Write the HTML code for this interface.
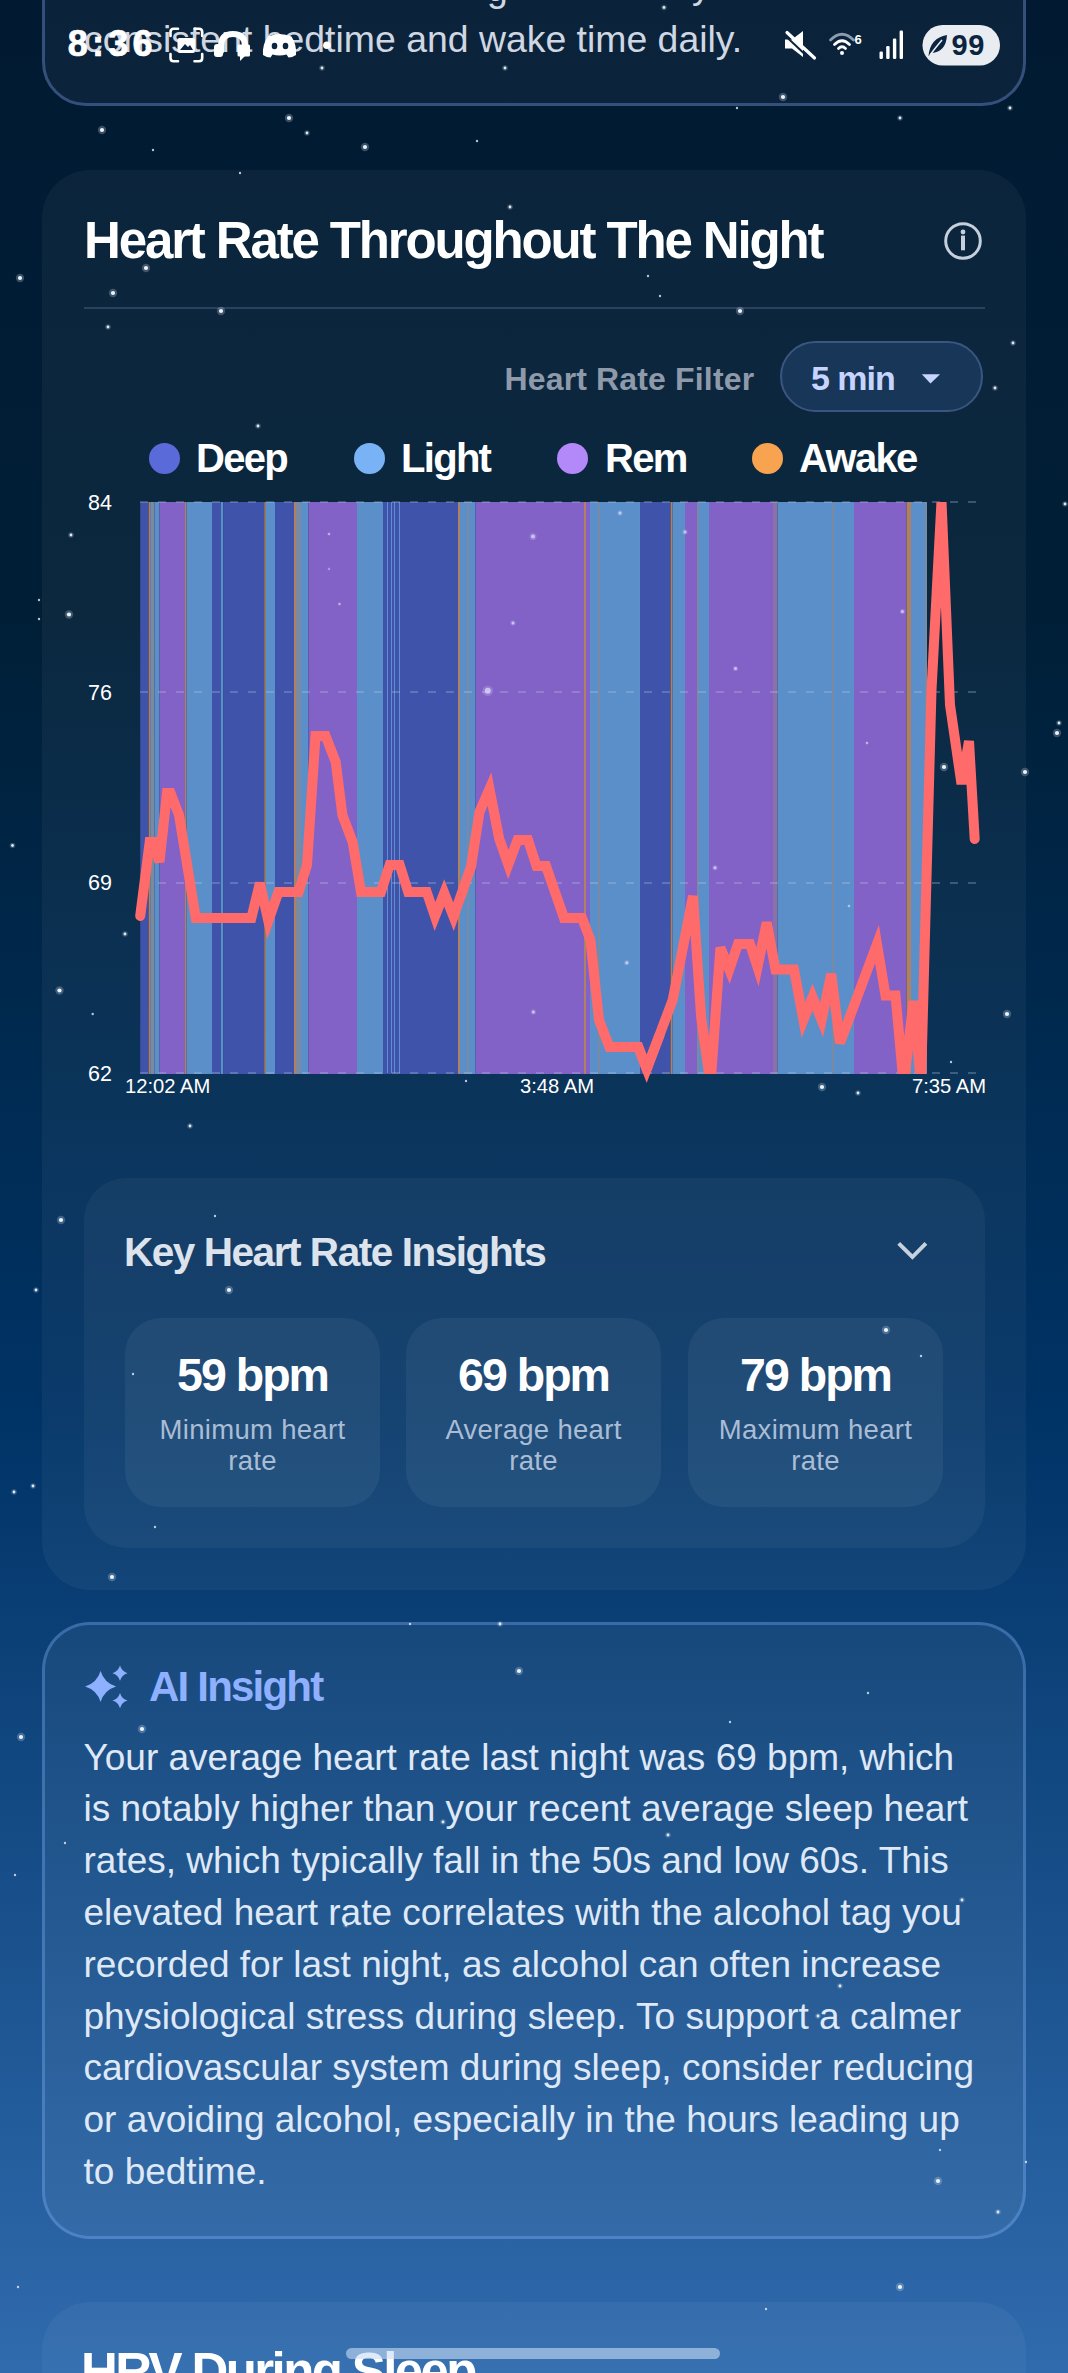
<!DOCTYPE html>
<html><head><meta charset="utf-8">
<style>
html,body{margin:0;padding:0;}
body{width:1068px;height:2373px;overflow:hidden;position:relative;
 font-family:"Liberation Sans",sans-serif;
 background:linear-gradient(180deg,#011a32 0px,#001f37 620px,#003366 1415px,#306bae 2373px);}
.a{position:absolute;}
.t{position:absolute;white-space:nowrap;line-height:1;}
.card{position:absolute;background:rgba(255,255,255,0.045);}
.pl{left:83.5px;font-size:37px;color:#dfe8f6;}
</style></head><body>
<!-- previous card -->
<div class="card" style="left:42px;top:-120px;width:978px;height:220px;border:3px solid #34507a;border-radius:44px;"></div>
<div class="t" style="left:84px;top:21.4px;font-size:37.4px;color:#cfd7e2;">consistent bedtime and wake time daily.</div>
<div class="t" style="left:487px;top:-29.8px;font-size:37.4px;color:#cfd7e2;">g</div>
<div class="t" style="left:692px;top:-32.8px;font-size:37.4px;color:#cfd7e2;">y</div>
<!-- status bar -->
<div class="t" style="left:67.7px;top:25.8px;font-size:36px;font-weight:bold;color:#fff;letter-spacing:4.3px;-webkit-text-stroke:0.7px #fff">8:36</div>

<!-- status icons -->
<svg class="a" style="left:0;top:0" width="1068" height="80" viewBox="0 0 1068 80">
 <g fill="none" stroke="#fff" stroke-width="2.6" stroke-linecap="round">
  <path d="M170.5 36 V32 Q170.5 28.8 173.7 28.8 H178"/>
  <path d="M194.5 28.8 H199 Q202.2 28.8 202.2 32 V36"/>
  <path d="M202.2 54 V58 Q202.2 61.3 199 61.3 H194.5"/>
  <path d="M178 61.3 H173.7 Q170.5 61.3 170.5 58 V54"/>
 </g>
 <rect x="177.5" y="38" width="17.5" height="15" rx="2" fill="#fff"/>
 <path d="M180 50 L185 44 L188 47 L190 45 L193 50 Z" fill="#0b2440"/>
 <path d="M218 46 Q218 31 233 31 Q248 31 248 46 L248 52 L242 52 L242 46 Q242 37 233 37 Q224 37 224 46 L224 52 Q222 57 218 55 Z" fill="#fff"/>
 <rect x="237.5" y="44.5" width="12.5" height="12" rx="1.5" fill="#fff"/>
 <path d="M240 56 L240 61 L245 56 Z" fill="#fff"/>
 <rect x="214" y="44" width="9" height="13" rx="3" fill="#fff"/>
 <path d="M268 36.5 Q279.5 31.5 291.5 36.5 Q297 45 296 55 Q292 57.5 288.5 57.5 L286.5 54.5 Q279.5 56.5 272.5 54.5 L270.5 57.5 Q267 57.5 263 55 Q262 45 268 36.5 Z" fill="#fff"/>
 <ellipse cx="274.5" cy="46" rx="2.8" ry="3.2" fill="#0b2440"/>
 <ellipse cx="285.5" cy="46" rx="2.8" ry="3.2" fill="#0b2440"/>
 <circle cx="326.9" cy="45.2" r="3.8" fill="#fff"/>
 <!-- mute -->
 <path d="M785 39.5 H792 L803 31 V57 L792 48.5 H785 Z" fill="#fff"/>
 <line x1="787" y1="32.5" x2="814.5" y2="58" stroke="#fff" stroke-width="3.2" stroke-linecap="round"/>
 <line x1="785" y1="35.5" x2="811" y2="60" stroke="#0b2440" stroke-width="2"/>
 <!-- wifi -->
 <path d="M830.5 40 Q842 28.5 853.5 40" fill="none" stroke="#8d9bb0" stroke-width="2.8" stroke-linecap="round"/>
 <path d="M834.5 44.5 Q842 37 849.5 44.5" fill="none" stroke="#fff" stroke-width="2.8" stroke-linecap="round"/>
 <path d="M838.5 48.5 Q842 45 845.5 48.5" fill="none" stroke="#fff" stroke-width="2.8" stroke-linecap="round"/>
 <circle cx="842" cy="53" r="2" fill="#fff"/>
 <text x="854.5" y="43.5" font-family="Liberation Sans" font-weight="bold" font-size="13" fill="#fff">6</text>
 <!-- signal -->
 <rect x="879.5" y="51.5" width="3.4" height="7.5" rx="1.2" fill="#fff"/>
 <rect x="886.2" y="46" width="3.4" height="13" rx="1.2" fill="#fff"/>
 <rect x="892.9" y="38.5" width="3.4" height="20.5" rx="1.2" fill="#fff"/>
 <rect x="899.6" y="30.5" width="3.4" height="28.5" rx="1.2" fill="#fff"/>
 <!-- battery pill -->
 <rect x="922.5" y="25" width="77.5" height="40.5" rx="20.2" fill="#e9edf2"/>
 <path d="M928.5 56 Q930 38 947 35 Q946 52 931.5 53 Z" fill="#0b2440"/>
 <path d="M930 55 Q936 47 942 40" stroke="#e9edf2" stroke-width="1.6" fill="none"/>
 <text x="951.5" y="55" font-family="Liberation Sans" font-weight="bold" font-size="29" fill="#0b2440" letter-spacing="0.5">99</text>
</svg>

<!-- main card -->
<div class="card" style="left:42px;top:170px;width:984px;height:1420px;border-radius:48px;"></div>
<div class="t" style="left:84px;top:214.6px;font-size:51px;font-weight:bold;color:#fff;letter-spacing:-2.14px">Heart Rate Throughout The Night</div>
<svg class="a" style="left:940px;top:218px" width="46" height="46" viewBox="0 0 46 46">
 <circle cx="23" cy="23" r="17.3" fill="none" stroke="#c5d0dc" stroke-width="3"/>
 <circle cx="23" cy="14" r="2.4" fill="#c5d0dc"/>
 <rect x="21" y="17.6" width="4" height="14.7" fill="#c5d0dc"/>
</svg>
<div class="a" style="left:84px;top:307px;width:901px;height:2px;background:#2a4260"></div>
<div class="t" style="left:504.5px;top:362.8px;font-size:32px;font-weight:bold;color:#8e9aaa;letter-spacing:0.15px">Heart Rate Filter</div>
<div class="a" style="left:780px;top:341px;width:199px;height:67px;border:2.6px solid #3a5680;border-radius:40px;background:rgba(40,75,120,0.45)"></div>
<div class="t" style="left:811px;top:360.8px;font-size:34px;font-weight:bold;color:#c6d4ff;letter-spacing:-1.0px">5 min</div>
<svg class="a" style="left:918px;top:372px" width="26" height="14" viewBox="0 0 26 14"><path d="M3.8 2.2 L22.1 2.2 L12.5 11.4 Z" fill="#c6d4ff"/></svg>

<!-- legend -->
<div class="a" style="left:149px;top:443px;width:31px;height:31px;border-radius:50%;background:#5a6ad8"></div>
<div class="t" style="left:196px;top:438px;font-size:40px;font-weight:bold;color:#fff;letter-spacing:-1.7px">Deep</div>
<div class="a" style="left:354px;top:443px;width:31px;height:31px;border-radius:50%;background:#7ab3f5"></div>
<div class="t" style="left:401px;top:438px;font-size:40px;font-weight:bold;color:#fff;letter-spacing:-1.7px">Light</div>
<div class="a" style="left:557px;top:443px;width:31px;height:31px;border-radius:50%;background:#b388f8"></div>
<div class="t" style="left:605px;top:438px;font-size:40px;font-weight:bold;color:#fff;letter-spacing:-1.7px">Rem</div>
<div class="a" style="left:752px;top:443px;width:31px;height:31px;border-radius:50%;background:#f7a350"></div>
<div class="t" style="left:799px;top:438px;font-size:40px;font-weight:bold;color:#fff;letter-spacing:-1.7px">Awake</div>

<svg width="1068" height="1200" viewBox="0 0 1068 1200" style="position:absolute;left:0;top:0">
<defs><clipPath id="cp"><rect x="120" y="502" width="900" height="572"/></clipPath></defs>
<rect x="140.2" y="502" width="8.5" height="572" fill="#3e53a9"/>
<rect x="148.7" y="502" width="1.5" height="572" fill="#b08060"/>
<rect x="150.2" y="502" width="4.4" height="572" fill="#7a8aa3"/>
<rect x="154.6" y="502" width="4.9" height="572" fill="#5b8fc9"/>
<rect x="159.5" y="502" width="25.5" height="572" fill="#8262c6"/>
<rect x="185.0" y="502" width="1.6" height="572" fill="#b08060"/>
<rect x="186.6" y="502" width="25.4" height="572" fill="#5b8fc9"/>
<rect x="212.0" y="502" width="9.0" height="572" fill="#3e53a9"/>
<rect x="221.0" y="502" width="2.4" height="572" fill="#5b8fc9"/>
<rect x="223.4" y="502" width="40.9" height="572" fill="#3e53a9"/>
<rect x="264.3" y="502" width="1.6" height="572" fill="#b08060"/>
<rect x="265.9" y="502" width="9.1" height="572" fill="#5b8fc9"/>
<rect x="275.0" y="502" width="19.0" height="572" fill="#3e53a9"/>
<rect x="294.0" y="502" width="2.0" height="572" fill="#b08060"/>
<rect x="296.0" y="502" width="5.0" height="572" fill="#7a8aa3"/>
<rect x="301.0" y="502" width="7.5" height="572" fill="#5b8fc9"/>
<rect x="308.5" y="502" width="48.5" height="572" fill="#8262c6"/>
<rect x="357.0" y="502" width="26.0" height="572" fill="#5b8fc9"/>
<rect x="383.0" y="502" width="17.0" height="572" fill="#3e53a9"/>
<rect x="400.0" y="502" width="58.0" height="572" fill="#3e53a9"/>
<rect x="458.0" y="502" width="2.0" height="572" fill="#b08060"/>
<rect x="460.0" y="502" width="7.0" height="572" fill="#5b8fc9"/>
<rect x="467.0" y="502" width="2.0" height="572" fill="#7a8aa3"/>
<rect x="469.0" y="502" width="6.5" height="572" fill="#5b8fc9"/>
<rect x="475.5" y="502" width="108.5" height="572" fill="#8262c6"/>
<rect x="584.0" y="502" width="2.0" height="572" fill="#b08060"/>
<rect x="586.0" y="502" width="4.0" height="572" fill="#8262c6"/>
<rect x="590.0" y="502" width="8.0" height="572" fill="#5b8fc9"/>
<rect x="598.0" y="502" width="2.0" height="572" fill="#7a8aa3"/>
<rect x="600.0" y="502" width="40.0" height="572" fill="#5b8fc9"/>
<rect x="640.0" y="502" width="30.6" height="572" fill="#3e53a9"/>
<rect x="670.6" y="502" width="1.9" height="572" fill="#b08060"/>
<rect x="672.5" y="502" width="12.5" height="572" fill="#5b8fc9"/>
<rect x="685.0" y="502" width="12.0" height="572" fill="#8262c6"/>
<rect x="697.0" y="502" width="2.0" height="572" fill="#7a8aa3"/>
<rect x="699.0" y="502" width="10.0" height="572" fill="#5b8fc9"/>
<rect x="709.0" y="502" width="64.0" height="572" fill="#8262c6"/>
<rect x="773.0" y="502" width="4.5" height="572" fill="#8a72a8"/>
<rect x="777.5" y="502" width="54.5" height="572" fill="#5b8fc9"/>
<rect x="832.0" y="502" width="2.0" height="572" fill="#7a8aa3"/>
<rect x="834.0" y="502" width="20.0" height="572" fill="#5b8fc9"/>
<rect x="854.0" y="502" width="52.5" height="572" fill="#8262c6"/>
<rect x="906.5" y="502" width="4.5" height="572" fill="#b08060"/>
<rect x="911.0" y="502" width="14.0" height="572" fill="#5b8fc9"/>
<rect x="925.0" y="502" width="2.0" height="572" fill="#7a8aa3"/>
<rect x="387.0" y="502" width="1" height="571" fill="#5f8fd0"/>
<rect x="391.0" y="502" width="1" height="571" fill="#5f8fd0"/>
<rect x="394.0" y="502" width="1" height="571" fill="#5f8fd0"/>
<rect x="399.0" y="502" width="1" height="571" fill="#5f8fd0"/>
<rect x="638.5" y="502" width="1" height="571" fill="#5f8fd0"/>
<line x1="140" y1="502" x2="976" y2="502" stroke="rgba(190,205,230,0.28)" stroke-width="2" stroke-dasharray="8 10"/>
<line x1="140" y1="692" x2="976" y2="692" stroke="rgba(190,205,230,0.28)" stroke-width="2" stroke-dasharray="8 10"/>
<line x1="140" y1="883" x2="976" y2="883" stroke="rgba(190,205,230,0.28)" stroke-width="2" stroke-dasharray="8 10"/>
<line x1="140" y1="1073" x2="976" y2="1073" stroke="rgba(190,205,230,0.28)" stroke-width="2" stroke-dasharray="8 10"/>
<polyline clip-path="url(#cp)" points="140.2,916.0 149.7,842.0 153.7,842.0 159.5,862.0 167.0,793.0 170.5,793.0 179.0,815.0 195.8,918.0 251.4,918.0 259.9,883.0 268.3,921.0 278.4,892.0 298.6,892.0 307.0,865.0 315.5,736.0 325.6,736.0 335.7,762.0 342.4,815.0 352.6,842.0 361.0,892.0 381.0,892.0 389.6,865.0 399.7,865.0 408.2,892.0 426.7,892.0 435.0,916.5 444.2,893.0 453.5,916.6 471.0,866.7 479.5,812.0 489.5,789.0 499.2,838.7 508.3,864.6 517.5,840.0 528.0,840.0 536.5,866.0 546.0,866.0 564.0,918.0 582.0,918.0 590.4,940.0 599.0,1020.0 609.4,1047.0 638.3,1047.0 646.7,1069.0 672.7,1000.0 693.0,896.0 701.2,1018.0 710.5,1085.0 720.4,947.5 729.3,969.6 738.0,944.0 750.0,944.0 757.5,967.0 766.7,922.5 775.5,969.6 794.0,969.6 803.4,1020.0 812.5,997.0 821.6,1020.0 831.2,974.0 840.0,1043.0 877.0,944.0 885.5,995.5 895.5,995.5 903.7,1085.0 913.4,1001.0 921.0,1085.0 931.5,690.0 941.5,501.0 950.0,705.0 961.5,784.0 969.0,741.0 974.7,839.0" fill="none" stroke="#ff6b6b" stroke-width="10" stroke-linejoin="miter" stroke-miterlimit="4" stroke-linecap="round"/>
<polyline points="630,1047 638.3,1047 646.7,1069 660,1034" fill="none" stroke="#ff6b6b" stroke-width="10" stroke-linejoin="miter" stroke-miterlimit="4"/>
</svg>
<div class="t" style="left:88px;top:493.2px;font-size:21.5px;color:#fff">84</div>
<div class="t" style="left:88px;top:683.2px;font-size:21.5px;color:#fff">76</div>
<div class="t" style="left:88px;top:873.2px;font-size:21.5px;color:#fff">69</div>
<div class="t" style="left:88px;top:1064.4px;font-size:21.5px;color:#fff">62</div>
<div class="t" style="left:125px;top:1075.7px;font-size:20.2px;color:#fff">12:02 AM</div>
<div class="t" style="left:520px;top:1075.7px;font-size:20.2px;color:#fff">3:48 AM</div>
<div class="t" style="left:912px;top:1075.7px;font-size:20.2px;color:#fff">7:35 AM</div>

<!-- insights panel -->
<div class="card" style="left:84px;top:1178px;width:901px;height:370px;border-radius:42px;"></div>
<div class="t" style="left:124px;top:1231.5px;font-size:40.5px;font-weight:bold;color:#dde3ec;letter-spacing:-1.45px">Key Heart Rate Insights</div>
<svg class="a" style="left:890px;top:1230px" width="46" height="40" viewBox="0 0 46 40"><path d="M8.7 13.3 L22.4 27 L35.9 13.3" fill="none" stroke="#c8d2de" stroke-width="3.9"/></svg>

<div class="card" style="left:125px;top:1318px;width:255px;height:189px;border-radius:36px;background:rgba(255,255,255,0.055)"></div>
<div class="card" style="left:406px;top:1318px;width:255px;height:189px;border-radius:36px;background:rgba(255,255,255,0.055)"></div>
<div class="card" style="left:688px;top:1318px;width:255px;height:189px;border-radius:36px;background:rgba(255,255,255,0.055)"></div>
<div class="t" style="left:125px;width:255px;text-align:center;top:1351.7px;font-size:46.5px;font-weight:bold;color:#fff;letter-spacing:-2.0px">59 bpm</div>
<div class="t" style="left:125px;width:255px;text-align:center;top:1415.5px;font-size:27.5px;color:#aabdd5;letter-spacing:0.3px">Minimum heart</div>
<div class="t" style="left:125px;width:255px;text-align:center;top:1446.9px;font-size:27.5px;color:#aabdd5;letter-spacing:0.3px">rate</div>
<div class="t" style="left:406px;width:255px;text-align:center;top:1351.7px;font-size:46.5px;font-weight:bold;color:#fff;letter-spacing:-2.0px">69 bpm</div>
<div class="t" style="left:406px;width:255px;text-align:center;top:1415.5px;font-size:27.5px;color:#aabdd5;letter-spacing:0.3px">Average heart</div>
<div class="t" style="left:406px;width:255px;text-align:center;top:1446.9px;font-size:27.5px;color:#aabdd5;letter-spacing:0.3px">rate</div>
<div class="t" style="left:688px;width:255px;text-align:center;top:1351.7px;font-size:46.5px;font-weight:bold;color:#fff;letter-spacing:-2.0px">79 bpm</div>
<div class="t" style="left:688px;width:255px;text-align:center;top:1415.5px;font-size:27.5px;color:#aabdd5;letter-spacing:0.3px">Maximum heart</div>
<div class="t" style="left:688px;width:255px;text-align:center;top:1446.9px;font-size:27.5px;color:#aabdd5;letter-spacing:0.3px">rate</div>

<!-- AI insight card -->
<div class="card" style="left:42px;top:1622px;width:978px;height:611px;border:3px solid rgba(130,180,255,0.33);border-radius:48px;background:rgba(255,255,255,0.05)"></div>
<svg class="a" style="left:80px;top:1660px" width="56" height="50" viewBox="0 0 56 50">
 <path d="M20.6 11.0 Q24.200000000000003 22.9 36.1 26.5 Q24.200000000000003 30.1 20.6 42.0 Q17.0 30.1 5.100000000000001 26.5 Q17.0 22.9 20.6 11.0 Z" fill="#8db0ff"/>
 <path d="M40 5.6 Q41.7 11.5 47.6 13.2 Q41.7 14.899999999999999 40 20.799999999999997 Q38.3 14.899999999999999 32.4 13.2 Q38.3 11.5 40 5.6 Z" fill="#8db0ff"/>
 <path d="M40 33.0 Q41.7 38.9 47.6 40.6 Q41.7 42.300000000000004 40 48.2 Q38.3 42.300000000000004 32.4 40.6 Q38.3 38.9 40 33.0 Z" fill="#8db0ff"/>
</svg>
<div class="t" style="left:149px;top:1665.7px;font-size:42px;font-weight:bold;color:#8fb0ff;letter-spacing:-1.8px">AI Insight</div>
<div class="t pl" style="top:1738.5px">Your average heart rate last night was 69 bpm, which</div>
<div class="t pl" style="top:1790.3px">is notably higher than your recent average sleep heart</div>
<div class="t pl" style="top:1842.1px">rates, which typically fall in the 50s and low 60s. This</div>
<div class="t pl" style="top:1893.9px">elevated heart rate correlates with the alcohol tag you</div>
<div class="t pl" style="top:1945.7px">recorded for last night, as alcohol can often increase</div>
<div class="t pl" style="top:1997.5px">physiological stress during sleep. To support a calmer</div>
<div class="t pl" style="top:2049.3px">cardiovascular system during sleep, consider reducing</div>
<div class="t pl" style="top:2101.1px">or avoiding alcohol, especially in the hours leading up</div>
<div class="t pl" style="top:2152.9px">to bedtime.</div>

<!-- next card -->
<div class="card" style="left:42px;top:2302px;width:984px;height:200px;border-radius:48px;"></div>
<div class="t" style="left:81px;top:2345.5px;font-size:51px;font-weight:bold;color:#fff;letter-spacing:-2.6px">HRV During Sleep</div>
<div class="a" style="left:346px;top:2348px;width:374px;height:11px;border-radius:6px;background:rgba(200,220,245,0.6)"></div>
<svg class="a" style="left:0;top:0" width="1068" height="2373" viewBox="0 0 1068 2373">
<circle cx="102" cy="130" r="4.2" fill="rgba(220,230,245,0.25)"/><circle cx="102" cy="130" r="2.1" fill="#eef3f9"/>
<circle cx="289" cy="118" r="4.2" fill="rgba(220,230,245,0.25)"/><circle cx="289" cy="118" r="2.1" fill="#eef3f9"/>
<circle cx="365" cy="147" r="4.2" fill="rgba(220,230,245,0.25)"/><circle cx="365" cy="147" r="2.1" fill="#eef3f9"/>
<circle cx="783" cy="97" r="4.2" fill="rgba(220,230,245,0.25)"/><circle cx="783" cy="97" r="2.1" fill="#eef3f9"/>
<circle cx="20" cy="278" r="4.2" fill="rgba(220,230,245,0.25)"/><circle cx="20" cy="278" r="2.1" fill="#eef3f9"/>
<circle cx="146" cy="268" r="4.2" fill="rgba(220,230,245,0.25)"/><circle cx="146" cy="268" r="2.1" fill="#eef3f9"/>
<circle cx="113" cy="293" r="4.2" fill="rgba(220,230,245,0.25)"/><circle cx="113" cy="293" r="2.1" fill="#eef3f9"/>
<circle cx="221" cy="311" r="4.2" fill="rgba(220,230,245,0.25)"/><circle cx="221" cy="311" r="2.1" fill="#eef3f9"/>
<circle cx="740" cy="311" r="4.2" fill="rgba(220,230,245,0.25)"/><circle cx="740" cy="311" r="2.1" fill="#eef3f9"/>
<circle cx="69" cy="614.5" r="4.2" fill="rgba(220,230,245,0.25)"/><circle cx="69" cy="614.5" r="2.1" fill="#eef3f9"/>
<circle cx="59.5" cy="990.5" r="4.2" fill="rgba(220,230,245,0.25)"/><circle cx="59.5" cy="990.5" r="2.1" fill="#eef3f9"/>
<circle cx="1057" cy="733" r="4.2" fill="rgba(220,230,245,0.25)"/><circle cx="1057" cy="733" r="2.1" fill="#eef3f9"/>
<circle cx="1025" cy="772" r="4.2" fill="rgba(220,230,245,0.25)"/><circle cx="1025" cy="772" r="2.1" fill="#eef3f9"/>
<circle cx="944" cy="767" r="4.2" fill="rgba(220,230,245,0.25)"/><circle cx="944" cy="767" r="2.1" fill="#eef3f9"/>
<circle cx="1007" cy="1014" r="4.2" fill="rgba(220,230,245,0.25)"/><circle cx="1007" cy="1014" r="2.1" fill="#eef3f9"/>
<circle cx="822" cy="1087" r="4.2" fill="rgba(220,230,245,0.25)"/><circle cx="822" cy="1087" r="2.1" fill="#eef3f9"/>
<circle cx="61" cy="1220" r="4.2" fill="rgba(220,230,245,0.25)"/><circle cx="61" cy="1220" r="2.1" fill="#eef3f9"/>
<circle cx="886" cy="1330" r="4.2" fill="rgba(220,230,245,0.25)"/><circle cx="886" cy="1330" r="2.1" fill="#eef3f9"/>
<circle cx="112" cy="1577" r="4.2" fill="rgba(220,230,245,0.25)"/><circle cx="112" cy="1577" r="2.1" fill="#eef3f9"/>
<circle cx="519" cy="1671" r="4.2" fill="rgba(220,230,245,0.25)"/><circle cx="519" cy="1671" r="2.1" fill="#eef3f9"/>
<circle cx="21" cy="1737" r="4.2" fill="rgba(220,230,245,0.25)"/><circle cx="21" cy="1737" r="2.1" fill="#eef3f9"/>
<circle cx="142" cy="1729" r="4.2" fill="rgba(220,230,245,0.25)"/><circle cx="142" cy="1729" r="2.1" fill="#eef3f9"/>
<circle cx="938" cy="2181" r="4.2" fill="rgba(220,230,245,0.25)"/><circle cx="938" cy="2181" r="2.1" fill="#eef3f9"/>
<circle cx="900" cy="2287" r="4.2" fill="rgba(220,230,245,0.25)"/><circle cx="900" cy="2287" r="2.1" fill="#eef3f9"/>
<circle cx="229" cy="1290" r="4.2" fill="rgba(220,230,245,0.25)"/><circle cx="229" cy="1290" r="2.1" fill="#eef3f9"/>
<circle cx="664" cy="7.5" r="2.8" fill="rgba(220,230,245,0.22)"/><circle cx="664" cy="7.5" r="1.4" fill="#e0e8f2"/>
<circle cx="307" cy="133" r="2.8" fill="rgba(220,230,245,0.22)"/><circle cx="307" cy="133" r="1.4" fill="#e0e8f2"/>
<circle cx="322" cy="68" r="2.8" fill="rgba(220,230,245,0.22)"/><circle cx="322" cy="68" r="1.4" fill="#e0e8f2"/>
<circle cx="505" cy="68" r="2.8" fill="rgba(220,230,245,0.22)"/><circle cx="505" cy="68" r="1.4" fill="#e0e8f2"/>
<circle cx="900" cy="118" r="2.8" fill="rgba(220,230,245,0.22)"/><circle cx="900" cy="118" r="1.4" fill="#e0e8f2"/>
<circle cx="1010" cy="108" r="2.8" fill="rgba(220,230,245,0.22)"/><circle cx="1010" cy="108" r="1.4" fill="#e0e8f2"/>
<circle cx="108" cy="327" r="2.8" fill="rgba(220,230,245,0.22)"/><circle cx="108" cy="327" r="1.4" fill="#e0e8f2"/>
<circle cx="510" cy="207" r="2.8" fill="rgba(220,230,245,0.22)"/><circle cx="510" cy="207" r="1.4" fill="#e0e8f2"/>
<circle cx="995" cy="388" r="2.8" fill="rgba(220,230,245,0.22)"/><circle cx="995" cy="388" r="1.4" fill="#e0e8f2"/>
<circle cx="1013" cy="343" r="2.8" fill="rgba(220,230,245,0.22)"/><circle cx="1013" cy="343" r="1.4" fill="#e0e8f2"/>
<circle cx="258" cy="426" r="2.8" fill="rgba(220,230,245,0.22)"/><circle cx="258" cy="426" r="1.4" fill="#e0e8f2"/>
<circle cx="71" cy="535" r="2.8" fill="rgba(220,230,245,0.22)"/><circle cx="71" cy="535" r="1.4" fill="#e0e8f2"/>
<circle cx="858" cy="1093" r="2.8" fill="rgba(220,230,245,0.22)"/><circle cx="858" cy="1093" r="1.4" fill="#e0e8f2"/>
<circle cx="190" cy="1126" r="2.8" fill="rgba(220,230,245,0.22)"/><circle cx="190" cy="1126" r="1.4" fill="#e0e8f2"/>
<circle cx="36" cy="1290" r="2.8" fill="rgba(220,230,245,0.22)"/><circle cx="36" cy="1290" r="1.4" fill="#e0e8f2"/>
<circle cx="14" cy="1492" r="2.8" fill="rgba(220,230,245,0.22)"/><circle cx="14" cy="1492" r="1.4" fill="#e0e8f2"/>
<circle cx="33" cy="1486" r="2.8" fill="rgba(220,230,245,0.22)"/><circle cx="33" cy="1486" r="1.4" fill="#e0e8f2"/>
<circle cx="500" cy="1624" r="2.8" fill="rgba(220,230,245,0.22)"/><circle cx="500" cy="1624" r="1.4" fill="#e0e8f2"/>
<circle cx="840" cy="1986" r="2.8" fill="rgba(220,230,245,0.22)"/><circle cx="840" cy="1986" r="1.4" fill="#e0e8f2"/>
<circle cx="818" cy="2016" r="2.8" fill="rgba(220,230,245,0.22)"/><circle cx="818" cy="2016" r="1.4" fill="#e0e8f2"/>
<circle cx="998" cy="2212" r="2.8" fill="rgba(220,230,245,0.22)"/><circle cx="998" cy="2212" r="1.4" fill="#e0e8f2"/>
<circle cx="12.5" cy="845.5" r="2.8" fill="rgba(220,230,245,0.22)"/><circle cx="12.5" cy="845.5" r="1.4" fill="#e0e8f2"/>
<circle cx="125" cy="934" r="2.8" fill="rgba(220,230,245,0.22)"/><circle cx="125" cy="934" r="1.4" fill="#e0e8f2"/>
<circle cx="1059" cy="723" r="2.8" fill="rgba(220,230,245,0.22)"/><circle cx="1059" cy="723" r="1.4" fill="#e0e8f2"/>
<circle cx="1065" cy="504" r="2.8" fill="rgba(220,230,245,0.22)"/><circle cx="1065" cy="504" r="1.4" fill="#e0e8f2"/>
<circle cx="346" cy="1925" r="2.8" fill="rgba(220,230,245,0.22)"/><circle cx="346" cy="1925" r="1.4" fill="#e0e8f2"/>
<circle cx="668" cy="1835" r="2.8" fill="rgba(220,230,245,0.22)"/><circle cx="668" cy="1835" r="1.4" fill="#e0e8f2"/>
<circle cx="443" cy="1822" r="2.8" fill="rgba(220,230,245,0.22)"/><circle cx="443" cy="1822" r="1.4" fill="#e0e8f2"/>
<circle cx="962" cy="1900" r="2.8" fill="rgba(220,230,245,0.22)"/><circle cx="962" cy="1900" r="1.4" fill="#e0e8f2"/>
<circle cx="737" cy="108" r="1.2" fill="rgba(230,238,248,0.8)"/>
<circle cx="240" cy="173" r="1.2" fill="rgba(230,238,248,0.8)"/>
<circle cx="153" cy="150" r="1.2" fill="rgba(230,238,248,0.8)"/>
<circle cx="477" cy="141" r="1.2" fill="rgba(230,238,248,0.8)"/>
<circle cx="660" cy="296" r="1.2" fill="rgba(230,238,248,0.8)"/>
<circle cx="648" cy="276" r="1.2" fill="rgba(230,238,248,0.8)"/>
<circle cx="39" cy="600" r="1.2" fill="rgba(230,238,248,0.8)"/>
<circle cx="39" cy="619" r="1.2" fill="rgba(230,238,248,0.8)"/>
<circle cx="92.7" cy="1014" r="1.2" fill="rgba(230,238,248,0.8)"/>
<circle cx="951" cy="1062" r="1.2" fill="rgba(230,238,248,0.8)"/>
<circle cx="466" cy="1081" r="1.2" fill="rgba(230,238,248,0.8)"/>
<circle cx="215" cy="1216" r="1.2" fill="rgba(230,238,248,0.8)"/>
<circle cx="921" cy="1356" r="1.2" fill="rgba(230,238,248,0.8)"/>
<circle cx="133" cy="1374" r="1.2" fill="rgba(230,238,248,0.8)"/>
<circle cx="155" cy="1527" r="1.2" fill="rgba(230,238,248,0.8)"/>
<circle cx="410" cy="1624" r="1.2" fill="rgba(230,238,248,0.8)"/>
<circle cx="730" cy="1722" r="1.2" fill="rgba(230,238,248,0.8)"/>
<circle cx="868" cy="1693" r="1.2" fill="rgba(230,238,248,0.8)"/>
<circle cx="65" cy="1843" r="1.2" fill="rgba(230,238,248,0.8)"/>
<circle cx="940" cy="2150" r="1.2" fill="rgba(230,238,248,0.8)"/>
<circle cx="1026" cy="2162" r="1.2" fill="rgba(230,238,248,0.8)"/>
<circle cx="766" cy="2309" r="1.2" fill="rgba(230,238,248,0.8)"/>
<circle cx="18" cy="2287" r="1.2" fill="rgba(230,238,248,0.8)"/>
<circle cx="15" cy="1875" r="1.2" fill="rgba(230,238,248,0.8)"/>
<circle cx="487.8" cy="690.8" r="5.4" fill="rgba(220,220,255,0.2)"/><circle cx="487.8" cy="690.8" r="3" fill="rgba(225,225,255,0.7)"/>
<circle cx="533" cy="536.6" r="3.6" fill="rgba(220,220,255,0.2)"/><circle cx="533" cy="536.6" r="2" fill="rgba(225,225,255,0.7)"/>
<circle cx="513" cy="623" r="2.7" fill="rgba(220,220,255,0.2)"/><circle cx="513" cy="623" r="1.5" fill="rgba(225,225,255,0.7)"/>
<circle cx="620" cy="513" r="2.7" fill="rgba(220,220,255,0.2)"/><circle cx="620" cy="513" r="1.5" fill="rgba(225,225,255,0.7)"/>
<circle cx="685" cy="532" r="2.7" fill="rgba(220,220,255,0.2)"/><circle cx="685" cy="532" r="1.5" fill="rgba(225,225,255,0.7)"/>
<circle cx="735.5" cy="668.6" r="2.7" fill="rgba(220,220,255,0.2)"/><circle cx="735.5" cy="668.6" r="1.5" fill="rgba(225,225,255,0.7)"/>
<circle cx="715" cy="867.8" r="2.7" fill="rgba(220,220,255,0.2)"/><circle cx="715" cy="867.8" r="1.5" fill="rgba(225,225,255,0.7)"/>
<circle cx="626.8" cy="962.8" r="2.7" fill="rgba(220,220,255,0.2)"/><circle cx="626.8" cy="962.8" r="1.5" fill="rgba(225,225,255,0.7)"/>
<circle cx="533.3" cy="1012" r="2.7" fill="rgba(220,220,255,0.2)"/><circle cx="533.3" cy="1012" r="1.5" fill="rgba(225,225,255,0.7)"/>
<circle cx="849" cy="906" r="1.8" fill="rgba(220,220,255,0.2)"/><circle cx="849" cy="906" r="1" fill="rgba(225,225,255,0.7)"/>
<circle cx="902.4" cy="611.5" r="2.7" fill="rgba(220,220,255,0.2)"/><circle cx="902.4" cy="611.5" r="1.5" fill="rgba(225,225,255,0.7)"/>
<circle cx="867" cy="743" r="1.8" fill="rgba(220,220,255,0.2)"/><circle cx="867" cy="743" r="1" fill="rgba(225,225,255,0.7)"/>
<circle cx="329" cy="534" r="1.8" fill="rgba(220,220,255,0.2)"/><circle cx="329" cy="534" r="1" fill="rgba(225,225,255,0.7)"/>
<circle cx="339.5" cy="604" r="1.8" fill="rgba(220,220,255,0.2)"/><circle cx="339.5" cy="604" r="1" fill="rgba(225,225,255,0.7)"/>
<circle cx="329" cy="569" r="1.4400000000000002" fill="rgba(220,220,255,0.2)"/><circle cx="329" cy="569" r="0.8" fill="rgba(225,225,255,0.7)"/>
</svg>
</body></html>
